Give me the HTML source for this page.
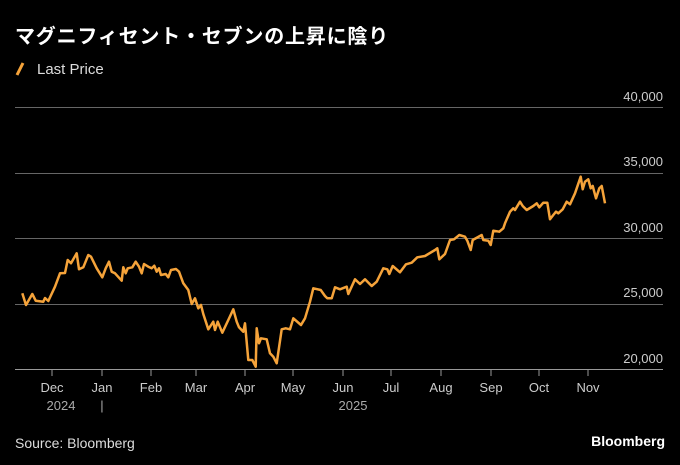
<!DOCTYPE html>
<html><head><meta charset="utf-8"><style>
html,body{margin:0;padding:0;background:#000;}
body{width:680px;height:465px;overflow:hidden;position:relative;font-family:"Liberation Sans","Noto Sans CJK JP",sans-serif;}
</style></head><body>
<svg width="680" height="465" xmlns="http://www.w3.org/2000/svg" style="position:absolute;left:0;top:0">
<text x="15" y="43" fill="#fff" font-size="20" font-weight="bold" letter-spacing="0.8" font-family="Liberation Sans, Noto Sans CJK JP, sans-serif">マグニフィセント・セブンの上昇に陰り</text>
<line x1="17" y1="75" x2="23" y2="63" stroke="#f5a33a" stroke-width="3"/>
<text x="37" y="74" fill="#ddd" font-size="15">Last Price</text>
<g stroke="#666" stroke-width="1">
<line x1="15" y1="107.5" x2="663" y2="107.5"/>
<line x1="15" y1="173.5" x2="663" y2="173.5"/>
<line x1="15" y1="238.5" x2="663" y2="238.5"/>
<line x1="15" y1="304.5" x2="663" y2="304.5"/>
</g>
<line x1="15" y1="369.5" x2="663" y2="369.5" stroke="#999" stroke-width="1"/>
<g fill="#ccc" font-size="13" text-anchor="end">
<text x="663" y="101">40,000</text>
<text x="663" y="166">35,000</text>
<text x="663" y="232">30,000</text>
<text x="663" y="297">25,000</text>
<text x="663" y="363">20,000</text>
</g>
<g stroke="#999" stroke-width="1">
<line x1="52" y1="370" x2="52" y2="376"/><line x1="102" y1="370" x2="102" y2="376"/><line x1="151" y1="370" x2="151" y2="376"/><line x1="196" y1="370" x2="196" y2="376"/><line x1="245" y1="370" x2="245" y2="376"/><line x1="293" y1="370" x2="293" y2="376"/><line x1="343" y1="370" x2="343" y2="376"/><line x1="391" y1="370" x2="391" y2="376"/><line x1="441" y1="370" x2="441" y2="376"/><line x1="491" y1="370" x2="491" y2="376"/><line x1="539" y1="370" x2="539" y2="376"/><line x1="588" y1="370" x2="588" y2="376"/>
</g>
<g fill="#ccc" font-size="13" text-anchor="middle">
<text x="52" y="392">Dec</text><text x="102" y="392">Jan</text><text x="151" y="392">Feb</text><text x="196" y="392">Mar</text><text x="245" y="392">Apr</text><text x="293" y="392">May</text><text x="343" y="392">Jun</text><text x="391" y="392">Jul</text><text x="441" y="392">Aug</text><text x="491" y="392">Sep</text><text x="539" y="392">Oct</text><text x="588" y="392">Nov</text>
<text x="61" y="410" fill="#aaa">2024</text><text x="102" y="410" fill="#aaa">|</text><text x="353" y="410" fill="#aaa">2025</text>
</g>
<text x="15" y="448" fill="#ddd" font-size="14">Source: Bloomberg</text>
<text x="665" y="446" fill="#fff" font-size="14" font-weight="bold" text-anchor="end">Bloomberg</text>
<polyline fill="none" stroke="#f5a33a" stroke-width="2.5" stroke-linejoin="round" points="22.3,293.3 26,305 32.3,294 35.7,300.7 43.3,301.7 45,298 48.3,301 55,286.7 60,273.3 65,273 67.7,260 71,263.3 76.7,253.3 79,269.3 83.3,267.3 88.3,255 91,256.7 96.7,268.3 102.3,277.3 105.7,268.3 109,261.7 111.7,271.7 115,273.3 121.7,280.7 123.3,267.3 125.7,273.3 127.7,268.3 132.3,267.3 135.7,261.7 139,266.7 141.7,273.3 144,264 148.3,266.7 151.7,268.3 154.3,265.7 156.7,271.7 159,268.3 161,275 165.7,274 168.3,277.3 171,270 176,269 179,271.7 183.3,283.3 188.3,290 191.7,304 195,298.3 198.3,308.3 201,305 203.3,314 208.3,329.3 213.3,321.7 215,330 217.7,321.7 222.3,332.7 228.3,320 233.3,309.3 236.7,321.7 239,327.3 243.3,331.7 245,323.3 248.3,360 252.3,360 255.7,366.7 256.7,328.3 259,343.3 261,338.3 266.7,339.3 270,353.3 273.3,356.7 276.7,363.3 281.7,329.3 285.7,328.3 290,329.3 293.3,318.3 301,325 305,318.3 310,301.7 313.3,288.3 320.7,290 325,296 327.3,298.3 331.7,298.3 335,287.3 340,289.3 346.7,286.7 348.3,294 355,279.3 360,284 365,279.3 371.7,286 376.7,281.7 383.3,268.3 387.3,269.3 389.3,274 392.7,266 400,272.3 406,264.3 411.7,262.7 417.3,257.3 425,256 435,250 437.3,248.3 439.3,259.3 445,254 450,240 454,239.3 459.3,235 465,236.7 467.3,240.7 470.7,250 472.7,240 481.7,235 483.3,240 488.3,240.7 490.7,245 493.3,230.7 499.3,231.7 503.3,228.3 505,223.3 510,211.7 513.3,208.3 515,210 520,201.7 522.7,206 526.7,210 533.3,206 536.7,203.3 539.3,207.3 543.3,202.7 547.3,202.7 550,219.3 553.3,215 556,211.7 558.3,213.3 562.7,209.3 566.7,201.7 570,204.3 575,193.3 580.7,176.7 582.7,189.3 585,181.7 588.3,179.3 590.7,188.3 592.7,186 596,198.3 599.3,188.3 601.7,186 605,203.3"/>
</svg>
</body></html>
